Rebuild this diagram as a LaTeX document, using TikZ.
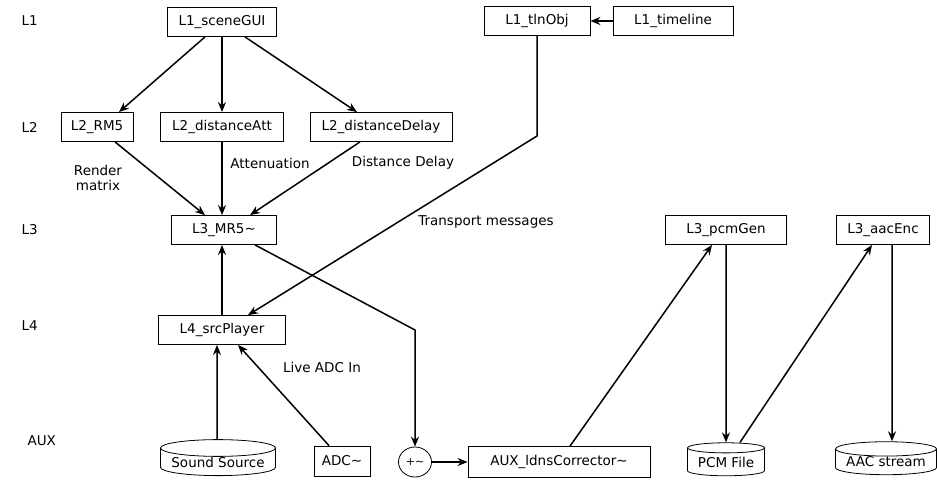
\documentclass[tikz,border=0pt]{standalone}
\usepackage{fontspec}
\setmainfont{DejaVu Sans}
\usetikzlibrary{arrows.meta,shapes.geometric}

\tikzset{
  box/.style={draw, line width=0.8pt, inner sep=0pt, minimum height=29, font=\fontsize{13.5}{15}\selectfont},
  store/.style={draw, line width=0.8pt, cylinder, shape border rotate=90, aspect=0.18, inner sep=0pt, font=\fontsize{13.5}{15}\selectfont},
  lvl/.style={font=\fontsize{13.5}{15}\selectfont, anchor=west},
  lbl/.style={font=\fontsize{13.5}{15}\selectfont, align=center},
  arr/.style={-{Stealth[length=10pt,width=8pt]}, line width=1.5pt}
}

\begin{document}
\begin{tikzpicture}[x=1pt, y=-1pt]
  \useasboundingbox (0,0) rectangle (937,480);
  % level names
  \node[lvl] (nL1) at (18,21) {L1};
  \node[lvl] (nL2) at (18,127) {L2};
  \node[lvl] (nL3) at (18,230) {L3};
  \node[lvl] (nL4) at (18,326) {L4};
  \node[lvl] (nAUX) at (24,441) {AUX};
  % boxes
  \node[box, minimum width=109] (gui) at (222,22) {L1\_sceneGUI};
  \node[box, minimum width=106] (tln) at (537,21) {L1\_tlnObj};
  \node[box, minimum width=120] (tline) at (673,21) {L1\_timeline};
  \node[box, minimum width=72] (rm) at (97,127) {L2\_RM5};
  \node[box, minimum width=123] (att) at (222,127) {L2\_distanceAtt};
  \node[box, minimum width=142] (dly) at (381,127) {L2\_distanceDelay};
  \node[box, minimum width=105] (mr) at (224,230) {L3\_MR5\textasciitilde};
  \node[box, minimum width=121] (pcm) at (726,230) {L3\_pcmGen};
  \node[box, minimum width=93] (aac) at (883,230) {L3\_aacEnc};
  \node[box, minimum width=127] (player) at (222,330) {L4\_srcPlayer};
  \node[store, minimum width=115, minimum height=33] (snd) at (218,462) {Sound Source};
  \node[box, minimum width=56, minimum height=30] (adc) at (342,461) {ADC\textasciitilde};
  \node[draw, ellipse, line width=0.8pt, minimum width=33, minimum height=30, inner sep=0pt,
        font=\fontsize{11}{12}\selectfont] (sum) at (415,462) {+\textasciitilde};
  \node[box, minimum width=182, minimum height=31] (ldns) at (559,462) {AUX\_ldnsCorrector\textasciitilde};
  \node[store, minimum width=77, minimum height=33] (pfile) at (726,462) {PCM File};
  \node[store, minimum width=101, minimum height=33] (astream) at (886,462) {AAC stream};
  % connectors
  \draw[arr] ([xshift=-17]gui.south) -- ([xshift=22]rm.north);
  \draw[arr] (gui) -- (att);
  \draw[arr] ([xshift=23]gui.south) -- ([xshift=-24]dly.north);
  \draw[arr] ([xshift=18]rm.south) -- ([xshift=-19]mr.north);
  \draw[arr] (att) -- ([xshift=-2]mr.north);
  \draw[arr] ([xshift=-21]dly.south) -- ([xshift=26]mr.north);
  \draw[arr] (tline) -- (tln);
  \coordinate (tbend) at (537,136);
  \draw[arr] (tln) -- (tbend) -- ([xshift=26]player.north);
  \draw[arr] (player) -- ([xshift=-2]mr.south);
  \coordinate (mbend) at (415,330);
  \draw[arr] ([xshift=31]mr.south) -- (mbend) -- (sum);
  \draw[arr] ([xshift=-1]snd.north) -- ([xshift=-5]player.south);
  \draw[arr] ([xshift=-13]adc.north) -- ([xshift=16]player.south);
  \draw[arr] (sum) -- (ldns);
  \draw[arr] ([xshift=11]ldns.north) -- ([xshift=-14]pcm.south);
  \draw[arr] (pcm) -- (pfile);
  \draw[arr] ([xshift=14]pfile.north) -- ([xshift=-11]aac.south);
  \draw[arr] ([xshift=9]aac.south) -- ([xshift=6]astream.north);
  % connector labels
  \node[lbl] (lrm) at (98,178) {Render\\matrix};
  \node[lbl] (latt) at (270,163) {Attenuation};
  \node[lbl] (ldly) at (403,163) {Distance Delay};
  \node[lbl] (ltr) at (486,222) {Transport messages};
  \node[lbl] (ladc) at (322,367) {Live ADC In};
\end{tikzpicture}
\end{document}
